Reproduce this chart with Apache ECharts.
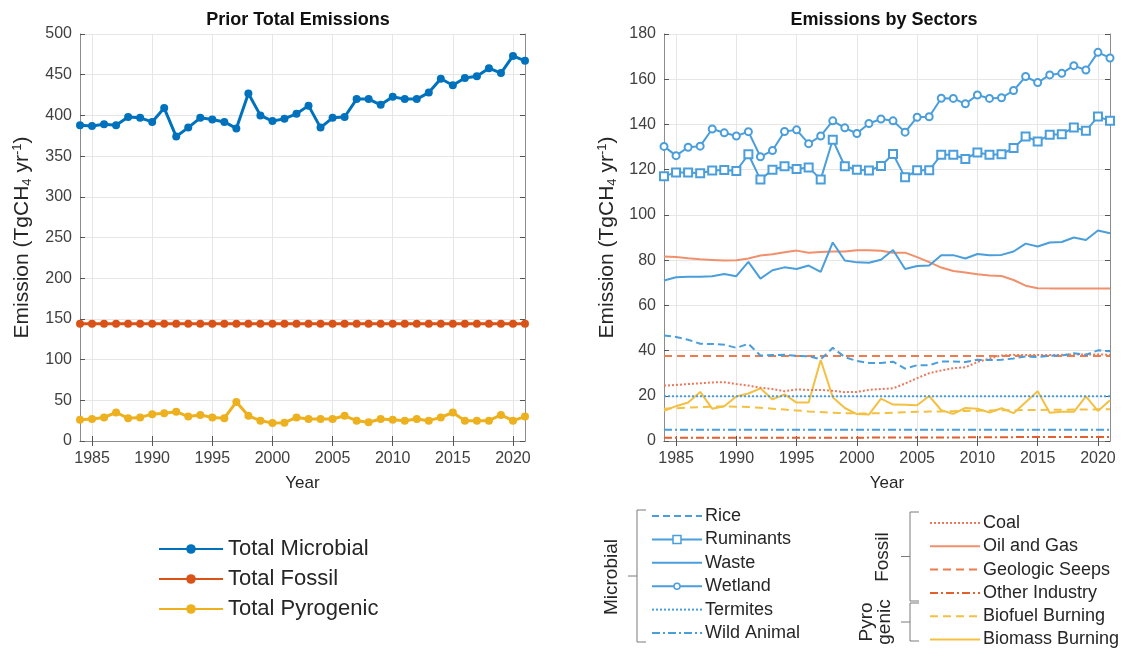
<!DOCTYPE html>
<html>
<head>
<meta charset="utf-8">
<title>Methane emissions</title>
<script src="https://cdn.jsdelivr.net/npm/echarts@6/dist/echarts.min.js"></script>
<style>
  html, body { margin: 0; padding: 0; background: #ffffff; }
  #chart { width: 1131px; height: 648px; }
</style>
</head>
<body>
<div id="chart"></div>
<script>
// ---- data (TgCH4 per year) ----
const years = ['1984','1985','1986','1987','1988','1989','1990','1991','1992','1993',
  '1994','1995','1996','1997','1998','1999','2000','2001','2002','2003',
  '2004','2005','2006','2007','2008','2009','2010','2011','2012','2013',
  '2014','2015','2016','2017','2018','2019','2020','2021'];

const totalMicrobial = [388,387,389,388,398,397,392,409,374,385,397,395,392,384,427,400,393,396,402,412,
  385,397,398,420,420,413,423,420,420,428,445,437,446,448,458,452,473,467];
const totalFossil = [144,144,144,144,144,144,144,144,144,144,144,144,144,144,144,144,144,144,144,144,
  144,144,144,144,144,144,144,144,144,144,144,144,144,144,144,144,144,144];
const totalPyrogenic = [26,27,29,35,28,29,33,34,36,30,32,29,28,48,31,25,22,22.5,29,27,
  27,27,31,25,23,27,26,25,27,25,29,35,25,25,25,32,25,30];

const rice = [46.7,46,44.8,43,42.9,42.6,41.2,43,37.8,38,38.1,37.7,37.5,36.1,41.2,37.1,35.4,34.5,34.5,35.1,
  32,33.5,33.5,35.2,35.2,34.9,35.9,35.8,35.9,36.5,37.4,37.1,37.7,37.8,38.8,38.1,40.1,39.7];
const ruminants = [117.1,118.8,118.8,118.4,119.6,119.9,119.4,126.8,115.6,120,121.5,120.3,121,115.7,133.2,121.5,120,119.6,121.6,126.9,
  116.6,119.7,119.7,126.6,126.6,124.7,127.6,126.6,126.8,129.6,134.7,132.5,135.4,135.7,138.7,137.2,143.5,141.6];
const waste = [71,72.4,72.6,72.6,72.9,73.9,72.9,79.2,71.8,75.5,76.8,76.1,77.6,74.8,87.8,79.8,79,78.8,80.2,84.5,
  76.1,77.4,77.6,82.2,82.2,80.7,82.7,82.2,82.3,83.8,87.3,86,87.8,88,90,88.9,93.1,91.9];
const wetland = [130.3,126.2,129.9,130.4,138,136.3,134.9,136.8,125.7,128.5,136.9,137.6,131.5,134.9,141.6,138.5,136,140.4,142.4,141.6,
  136.6,143.2,143.4,151.6,151.5,149.1,153,151.5,151.8,155,161.2,158.5,161.9,162.6,166,164.1,171.9,169.4];
const termites = [19.8,19.8,19.8,19.8,19.8,19.8,19.8,19.8,19.8,19.8,19.8,19.8,19.8,19.8,19.8,19.8,19.8,19.8,19.8,19.8,
  19.8,19.8,19.8,19.8,19.8,19.8,19.8,19.8,19.8,19.8,19.8,19.8,19.8,19.8,19.8,19.8,19.8,19.8];
const wildAnimal = [5,5,5,5,5,5,5,5,5,5,5,5,5,5,5,5,5,5,5,5,
  5,5,5,5,5,5,5,5,5,5,5,5,5,5,5,5,5,5];
const coal = [24.5,24.8,25.2,25.5,25.9,26,25.2,24.5,23.6,23,22,22.8,22.6,22.6,22.2,21.6,21.7,22.6,23,23.3,
  25.4,27.8,30,31.2,32.2,32.6,34.9,36.5,37.8,38.1,38,38,38,38.1,38.3,38.3,38.3,38.1];
const oilAndGas = [81.6,81.4,80.8,80.4,80.1,79.8,79.9,80.7,82,82.6,83.5,84.2,83.3,83.6,83.8,83.8,84.4,84.4,84.1,83.3,
  83.3,81.3,79.1,76.7,75.2,74.5,73.7,73.2,73,71.2,68.7,67.6,67.5,67.5,67.5,67.5,67.5,67.5];
const geologicSeeps = [37.6,37.6,37.6,37.6,37.6,37.6,37.6,37.6,37.6,37.6,37.6,37.6,37.6,37.6,37.6,37.6,37.6,37.6,37.6,37.6,
  37.6,37.6,37.6,37.6,37.6,37.6,37.6,37.6,37.6,37.6,37.6,37.6,37.6,37.6,37.6,37.6,37.6,37.6];
const otherIndustry = [1.4,1.4,1.4,1.4,1.4,1.4,1.4,1.4,1.4,1.4,1.4,1.4,1.4,1.4,1.4,1.4,1.4,1.5,1.5,1.5,
  1.5,1.5,1.6,1.6,1.6,1.6,1.7,1.7,1.7,1.7,1.8,1.8,1.8,1.8,1.8,1.8,1.8,1.8];
const biofuelBurning = [14.3,14.5,14.8,15,15.2,15.3,15.2,15,14.7,14.3,13.9,13.5,13.1,12.8,12.5,12.3,12.2,12.2,12.3,12.5,
  12.7,12.9,13,13.1,13.2,13.3,13.4,13.5,13.6,13.6,13.7,13.7,13.8,13.8,13.9,13.9,14,14];
const biomassBurning = [13.3,15.4,17,21.7,14.3,15.4,19.7,21,23.3,18.4,20.6,17,17,35.8,19.4,14.6,11.9,11.7,18.7,16.1,
  16,15.8,19.9,13.6,12,14.6,14.3,12.6,14.5,12.3,17.1,22,12.5,12.9,12.9,19.7,13.3,18];

const leftTicks = { min: 0, max: 500, interval: 50 };
const rightTicks = { min: 0, max: 180, interval: 20 };

// ---- styling ----
const FONT = '"Liberation Sans", Arial, Helvetica, sans-serif';
const TXT = '#262626';
const BLUE = '#4A9EDB';
const SALMON = '#F0906C';
const CORAL = '#E97A5E';
const ORANGE = '#EC7B4E';
const RED = '#E0602F';
const YELLOW = '#F3C042';

const isTickYear = (i, v) => Number(v) % 5 === 0;

function xAxes(gridIndex) {
  const line = { lineStyle: { color: '#8c8c8c', width: 1 } };
  const tick = { inside: true, length: 5, interval: isTickYear, lineStyle: { color: '#555' } };
  return [
    {
      type: 'category', gridIndex, data: years, boundaryGap: false, position: 'bottom',
      name: 'Year', nameLocation: 'middle', nameGap: 34,
      nameTextStyle: { fontSize: 17, color: TXT, fontFamily: FONT },
      axisLine: line, axisTick: tick,
      axisLabel: { interval: isTickYear, fontSize: 16, color: '#404040', margin: 10, fontFamily: FONT },
      splitLine: { show: true, interval: isTickYear, lineStyle: { color: '#e6e6e6' } }
    },
    {
      type: 'category', gridIndex, data: years, boundaryGap: false, position: 'top',
      axisLine: line, axisTick: tick, axisLabel: { show: false }, splitLine: { show: false }
    }
  ];
}

function yAxes(gridIndex, ticks, nameGap) {
  const line = { show: true, lineStyle: { color: '#8c8c8c', width: 1 } };
  const tick = { show: true, inside: true, length: 5, lineStyle: { color: '#555' } };
  return [
    {
      type: 'value', gridIndex, position: 'left', ...ticks,
      name: '{a|Emission (TgCH}{b|4}{a| yr}{c|-1}{a|)}',
      nameLocation: 'middle', nameGap, nameRotate: 90,
      nameTextStyle: {
        color: TXT, fontFamily: FONT,
        rich: {
          a: { fontSize: 21, color: TXT, fontFamily: FONT },
          b: { fontSize: 13, color: TXT, fontFamily: FONT, padding: [11, 0, 0, 0] },
          c: { fontSize: 13, color: TXT, fontFamily: FONT, padding: [0, 0, 10, 0] }
        }
      },
      axisLine: line, axisTick: tick,
      axisLabel: { fontSize: 16, color: '#404040', margin: 8, fontFamily: FONT },
      splitLine: { show: true, lineStyle: { color: '#e6e6e6' } }
    },
    {
      type: 'value', gridIndex, position: 'right', ...ticks,
      axisLine: line, axisTick: tick, axisLabel: { show: false }, splitLine: { show: false }
    }
  ];
}

function totalSeries(name, data, color) {
  return {
    name, type: 'line', data, xAxisIndex: 0, yAxisIndex: 0,
    symbol: 'circle', symbolSize: 8, showAllSymbol: true, color,
    lineStyle: { color, width: 3 }, itemStyle: { color },
    animation: false, z: 3
  };
}

// sector series styles (name -> look), used by the series and the legend key
const sectorLooks = {
  'Rice':            { color: BLUE,   width: 2,   dash: [7, 4] },
  'Ruminants':       { color: BLUE,   width: 2,   dash: 'solid', symbol: 'emptyRect', size: 8 },
  'Waste':           { color: BLUE,   width: 2,   dash: 'solid' },
  'Wetland':         { color: BLUE,   width: 2,   dash: 'solid', symbol: 'emptyCircle', size: 7 },
  'Termites':        { color: BLUE,   width: 2,   dash: [2, 2] },
  'Wild Animal':     { color: BLUE,   width: 2,   dash: [8, 3, 2, 3] },
  'Coal':            { color: CORAL,  width: 2,   dash: [2, 2] },
  'Oil and Gas':     { color: SALMON, width: 2,   dash: 'solid' },
  'Geologic Seeps':  { color: ORANGE, width: 2,   dash: [8, 5] },
  'Other Industry':  { color: RED,    width: 2,   dash: [8, 3, 2, 3] },
  'Biofuel Burning': { color: YELLOW, width: 2,   dash: [8, 5] },
  'Biomass Burning': { color: YELLOW, width: 2,   dash: 'solid' }
};

const sectorData = {
  'Rice': rice, 'Ruminants': ruminants, 'Waste': waste, 'Wetland': wetland,
  'Termites': termites, 'Wild Animal': wildAnimal, 'Coal': coal, 'Oil and Gas': oilAndGas,
  'Geologic Seeps': geologicSeeps, 'Other Industry': otherIndustry,
  'Biofuel Burning': biofuelBurning, 'Biomass Burning': biomassBurning
};

// drawing order of the sector lines
const sectorOrder = ['Other Industry', 'Wild Animal', 'Biofuel Burning', 'Biomass Burning', 'Termites',
  'Coal', 'Geologic Seeps', 'Rice', 'Oil and Gas', 'Waste', 'Ruminants', 'Wetland'];

const sectorSeries = sectorOrder.map(name => {
  const lk = sectorLooks[name];
  return {
    name, type: 'line', data: sectorData[name], xAxisIndex: 2, yAxisIndex: 2,
    symbol: lk.symbol || 'none', symbolSize: lk.size || 0, showSymbol: !!lk.symbol, showAllSymbol: true,
    lineStyle: { color: lk.color, width: lk.width, type: lk.dash },
    itemStyle: { color: lk.color, borderColor: lk.color, borderWidth: 1.5 },
    animation: false
  };
});

// ---- key for the sector panel, grouped with brackets ----
const microbialKey = ['Rice', 'Ruminants', 'Waste', 'Wetland', 'Termites', 'Wild Animal'];
const fossilKey = ['Coal', 'Oil and Gas', 'Geologic Seeps', 'Other Industry'];
const pyroKey = ['Biofuel Burning', 'Biomass Burning'];

function keyEntry(name, x, y) {
  const lk = sectorLooks[name];
  const els = [{
    type: 'line', shape: { x1: x, y1: y, x2: x + 50, y2: y },
    style: { stroke: lk.color, lineWidth: lk.width, lineDash: Array.isArray(lk.dash) ? lk.dash : null }
  }];
  if (lk.symbol === 'emptyRect') {
    els.push({ type: 'rect', shape: { x: x + 21, y: y - 4, width: 8, height: 8 },
      style: { fill: '#fff', stroke: lk.color, lineWidth: 1.5 } });
  } else if (lk.symbol === 'emptyCircle') {
    els.push({ type: 'circle', shape: { cx: x + 25, cy: y, r: 3 },
      style: { fill: '#fff', stroke: lk.color, lineWidth: 1.5 } });
  }
  els.push({ type: 'text', x: x + 53, y, style: { text: name, font: '18px ' + FONT, fill: TXT, textVerticalAlign: 'middle' } });
  return els;
}

const keyGraphics = [];
microbialKey.forEach((n, i) => keyGraphics.push(...keyEntry(n, 652, 516 + i * 23.4)));
fossilKey.concat(pyroKey).forEach((n, i) => keyGraphics.push(...keyEntry(n, 930, 523 + i * 23.3)));

const bracketStyle = { stroke: '#7a7a7a', lineWidth: 1, fill: null };
function bracket(x, y1, y2) {
  const mid = (y1 + y2) / 2;
  return [
    { type: 'polyline', shape: { points: [[x + 9, y1], [x, y1], [x, y2], [x + 9, y2]] }, style: bracketStyle },
    { type: 'line', shape: { x1: x - 9, y1: mid, x2: x, y2: mid }, style: bracketStyle }
  ];
}
keyGraphics.push(...bracket(637, 510, 642));
keyGraphics.push(...bracket(910, 512, 601));
keyGraphics.push(...bracket(910, 603, 641));
function groupLabel(text, x, y) {
  return { type: 'text', x, y, rotation: Math.PI / 2,
    style: { text, font: '19px ' + FONT, fill: TXT, align: 'center', verticalAlign: 'middle', lineHeight: 18 } };
}
keyGraphics.push(groupLabel('Microbial', 612, 577));
keyGraphics.push(groupLabel('Fossil', 883, 557));
keyGraphics.push(groupLabel('Pyro\ngenic', 876, 622));

const chart = echarts.init(document.getElementById('chart'), null, { renderer: 'canvas' });
chart.setOption({
  backgroundColor: '#ffffff',
  animation: false,
  textStyle: { fontFamily: FONT },
  title: [
    { text: 'Prior Total Emissions', left: 293, top: 6, textAlign: 'center',
      textStyle: { fontSize: 18, fontWeight: 'bold', color: '#111', fontFamily: FONT } },
    { text: 'Emissions by Sectors', left: 879, top: 6, textAlign: 'center',
      textStyle: { fontSize: 18, fontWeight: 'bold', color: '#111', fontFamily: FONT } }
  ],
  grid: [
    { left: 80, right: 606, top: 34, bottom: 207, containLabel: false },
    { left: 664, right: 21, top: 34, bottom: 207, containLabel: false }
  ],
  xAxis: [...xAxes(0), ...xAxes(1)],
  yAxis: [...yAxes(0, leftTicks, 46), ...yAxes(1, rightTicks, 45)],
  legend: {
    orient: 'vertical', left: 153, top: 531,
    data: ['Total Microbial', 'Total Fossil', 'Total Pyrogenic'],
    itemWidth: 64, itemHeight: 12, itemGap: 4,
    textStyle: { fontSize: 22, color: TXT, fontFamily: FONT, lineHeight: 26 },
    selectedMode: false
  },
  graphic: keyGraphics,
  series: [
    totalSeries('Total Microbial', totalMicrobial, '#0072BD'),
    totalSeries('Total Fossil', totalFossil, '#D95319'),
    totalSeries('Total Pyrogenic', totalPyrogenic, '#EDB120'),
    ...sectorSeries
  ]
});
</script>
</body>
</html>
